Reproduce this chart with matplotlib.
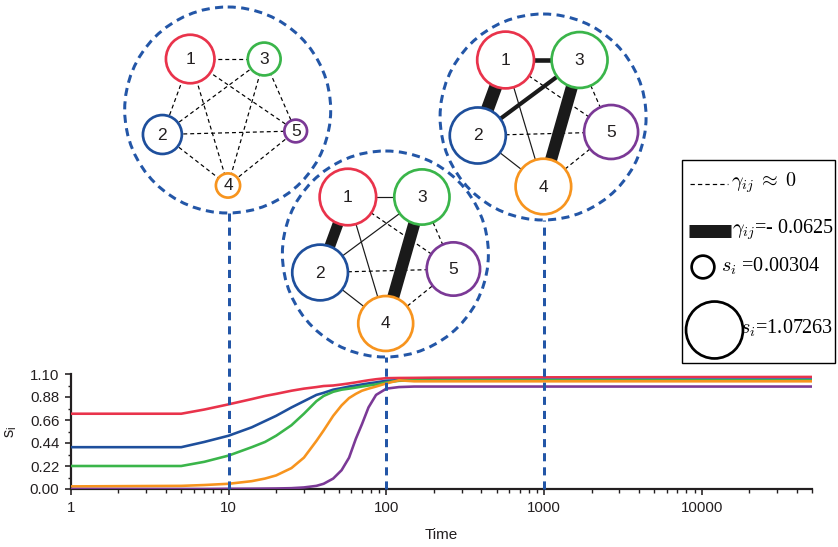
import numpy as np
import matplotlib
matplotlib.use("Agg")
import matplotlib.pyplot as plt
from matplotlib.patches import Circle, Rectangle
from matplotlib.ticker import FixedLocator, LogLocator, NullFormatter, FixedFormatter

plt.rcParams['font.family'] = ['Liberation Sans', 'DejaVu Sans']
plt.rcParams['mathtext.fontset'] = 'cm'

# ---------------- data ----------------
time = [1, 5, 7, 10, 14, 17, 20, 25, 30, 36, 40, 46, 52, 58, 64, 70, 77, 86,
        100, 120, 150, 200, 500, 1000, 5000, 50000]
s1 = [0.72, 0.72, 0.76, 0.81, 0.86, 0.89, 0.91, 0.94, 0.96, 0.975, 0.985, 0.99, 1.00, 1.01,
      1.02, 1.03, 1.04, 1.05, 1.06, 1.062, 1.063, 1.065, 1.067, 1.068, 1.070, 1.072]
s2 = [0.40, 0.40, 0.45, 0.51, 0.59, 0.65, 0.70, 0.78, 0.84, 0.90, 0.92, 0.95, 0.965, 0.98,
      0.99, 1.00, 1.01, 1.02, 1.035, 1.04, 1.04, 1.042, 1.044, 1.045, 1.046, 1.047]
s3 = [0.22, 0.22, 0.26, 0.32, 0.40, 0.45, 0.51, 0.61, 0.72, 0.84, 0.89, 0.93, 0.95, 0.96,
      0.97, 0.98, 0.99, 1.00, 1.02, 1.035, 1.04, 1.04, 1.04, 1.04, 1.04, 1.04]
s4 = [0.025, 0.03, 0.038, 0.05, 0.075, 0.10, 0.13, 0.20, 0.30, 0.46, 0.56, 0.70, 0.80, 0.87,
      0.91, 0.94, 0.96, 0.98, 1.01, 1.04, 1.03, 1.03, 1.03, 1.03, 1.03, 1.03]
s5 = [0.0, 0.0, 0.0, 0.002, 0.003, 0.004, 0.005, 0.008, 0.015, 0.03, 0.05, 0.10, 0.18, 0.30,
      0.48, 0.62, 0.78, 0.90, 0.96, 0.975, 0.98, 0.98, 0.98, 0.98, 0.98, 0.98]

node_labels = ['1', '2', '3', '4', '5']
node_colors = ['#E9334B', '#1E4F9C', '#3AB54A', '#F7941E', '#7B3996']

snapshot_times = [10, 100, 1000]
snapshot_s = [
    [0.81, 0.51, 0.32, 0.05, 0.003],
    [1.06, 1.035, 1.02, 1.01, 0.96],
    [1.068, 1.045, 1.04, 1.03, 0.98],
]
edge_pairs = [(1, 2), (1, 3), (1, 4), (1, 5), (2, 3), (2, 4), (2, 5), (3, 4), (3, 5), (4, 5)]
snapshot_gamma = [
    [-0.0001] * 10,
    [-0.052, -0.004, -0.004, -0.0001, -0.004, -0.004, -0.0001, -0.058, -0.0001, -0.0001],
    [-0.0625, -0.022, -0.004, -0.0001, -0.020, -0.004, -0.0001, -0.058, -0.0001, -0.0001],
]
legend_gamma = [-0.0001, -0.0625]
legend_s = [0.00304, 1.07263]

y_ticks = [0.00, 0.22, 0.44, 0.66, 0.88, 1.10]
y_tick_labels = ['0.00', '0.22', '0.44', '0.66', '0.88', '1.10']
x_ticks = [1, 10, 100, 1000, 10000]
x_tick_labels = ['1', '10', '100', '1000', '10000']

# ---------------- figure ----------------
W, H = 838, 547
PX = 0.72  # points per pixel at dpi 100
TXT = '#231F20'
DASHBLUE = '#2356A7'

fig = plt.figure(figsize=(W / 100, H / 100), dpi=100)
ax = fig.add_axes([71 / W, 1 - 489 / H, (812 - 71) / W, (489 - 374) / H])

for vals, c in zip([s1, s2, s3, s4, s5], node_colors):
    ax.plot(time, vals, color=c, lw=2.6 * PX, solid_capstyle='butt', zorder=3)

ax.set_xscale('log')
ax.set_xlim(1, 5e4)
ax.set_ylim(0, 1.10)
for sp in ['top', 'right']:
    ax.spines[sp].set_visible(False)
for sp in ['left', 'bottom']:
    ax.spines[sp].set_linewidth(2.2 * PX)
    ax.spines[sp].set_color(TXT)

ax.xaxis.set_major_locator(FixedLocator(x_ticks))
ax.xaxis.set_major_formatter(FixedFormatter(x_tick_labels))
ax.xaxis.set_minor_locator(LogLocator(base=10, subs=np.arange(2, 10), numticks=30))
ax.xaxis.set_minor_formatter(NullFormatter())
ax.yaxis.set_major_locator(FixedLocator(y_ticks))
ax.yaxis.set_major_formatter(FixedFormatter(y_tick_labels))
ax.yaxis.set_minor_locator(FixedLocator([0.11, 0.33, 0.55, 0.77, 0.99]))

ax.tick_params(which='major', direction='out', length=6 * PX, width=1.6 * PX,
               labelsize=10.8, colors=TXT)
ax.tick_params(which='minor', direction='out', length=3.5 * PX, width=1.4 * PX, colors=TXT)
ax.tick_params(axis='y', which='major', pad=4)
ax.tick_params(axis='x', which='major', pad=4)
ax.set_xlabel('Time', fontsize=11, color=TXT, labelpad=10)
ax.set_ylabel(r'$\mathregular{s_i}$', fontsize=12, color=TXT, labelpad=8)

# ---------------- overlay (pixel coordinates) ----------------
ov = fig.add_axes([0, 0, 1, 1])
ov.set_xlim(0, W)
ov.set_ylim(H, 0)
ov.set_axis_off()
ov.patch.set_alpha(0)


def xpix(t):
    return ax.transData.transform((t, 0))[0]


def ypix(v):
    return H - ax.transData.transform((1, v))[1]


def node_r(s):
    return 11.3 + 16.0 * s


def edge_px(g):
    return max(1.2, 13.0 * abs(g) / 0.0625)


node_offsets = [(-38.5, -57), (-66.3, 18.5), (35.5, -57), (-0.7, 69.5), (67, 15)]
node_cy = [116, 254, 117]
ring_cy = [110, 254, 117]
RING_R = 103

for k, t in enumerate(snapshot_times):
    cx = xpix(t)
    rx = cx - 1
    # vertical dashed line from axis to ring
    ov.plot([cx, cx], [ypix(0), ring_cy[k] + RING_R], color=DASHBLUE, lw=3 * PX,
            linestyle=(0, (2.7, 2.0)), zorder=2)
    ov.add_patch(Circle((rx, ring_cy[k]), RING_R, fill=False, edgecolor=DASHBLUE,
                        lw=3 * PX, linestyle=(0, (2.7, 1.8)), zorder=2))
    pos = [(cx + dx, node_cy[k] + dy) for dx, dy in node_offsets]
    for (i, j), g in zip(edge_pairs, snapshot_gamma[k]):
        (x1, y1), (x2, y2) = pos[i - 1], pos[j - 1]
        if abs(g) < 1e-3:
            ov.plot([x1, x2], [y1, y2], color='black', lw=1.2 * PX,
                    linestyle=(0, (3.3, 2.5)), zorder=3)
        else:
            ov.plot([x1, x2], [y1, y2], color='#1A1A1A', lw=edge_px(g) * PX,
                    solid_capstyle='butt', zorder=3)
    for n in range(5):
        ov.add_patch(Circle(pos[n], node_r(snapshot_s[k][n]), facecolor='white',
                            edgecolor=node_colors[n], lw=2.7 * PX, zorder=4))
        ov.text(pos[n][0], pos[n][1] + 0.5, node_labels[n], fontsize=12.5, color=TXT,
                ha='center', va='center', zorder=5)

# ---------------- legend ----------------
ov.add_patch(Rectangle((682, 160), 835 - 682, 363 - 160, facecolor='white',
                       edgecolor='black', lw=1.4 * PX, zorder=6))
lfont = ['Liberation Serif', 'DejaVu Serif']
ov.plot([690, 728], [184, 184], color='black', lw=1.2 * PX, linestyle=(0, (3.6, 2.6)), zorder=7)
ov.text(731, 183, r'$\gamma_{ij}\;\approx\;0$', fontsize=14.5, family=lfont,
        ha='left', va='center', zorder=7)
ov.plot([689, 731], [230.5, 230.5], color='#1A1A1A', lw=edge_px(legend_gamma[1]) * PX,
        solid_capstyle='butt', zorder=7)
ov.text(732, 230, r'$\gamma_{ij}$=- 0.0625', fontsize=14.5, family=lfont,
        ha='left', va='center', zorder=7)
ov.add_patch(Circle((703, 267), node_r(legend_s[0]), facecolor='white', edgecolor='black',
                    lw=2.7 * PX, zorder=7))
ov.text(721, 266, r'$s_i$ =0.00304', fontsize=14.5, family=lfont,
        ha='left', va='center', zorder=7)
ov.add_patch(Circle((714.5, 330), node_r(legend_s[1]), facecolor='white', edgecolor='black',
                    lw=2.7 * PX, zorder=7))
ov.text(740, 328, r'$s_i$=1.07263', fontsize=14.5, family=lfont,
        ha='left', va='center', zorder=8)

fig.savefig('out.png', dpi=100)
